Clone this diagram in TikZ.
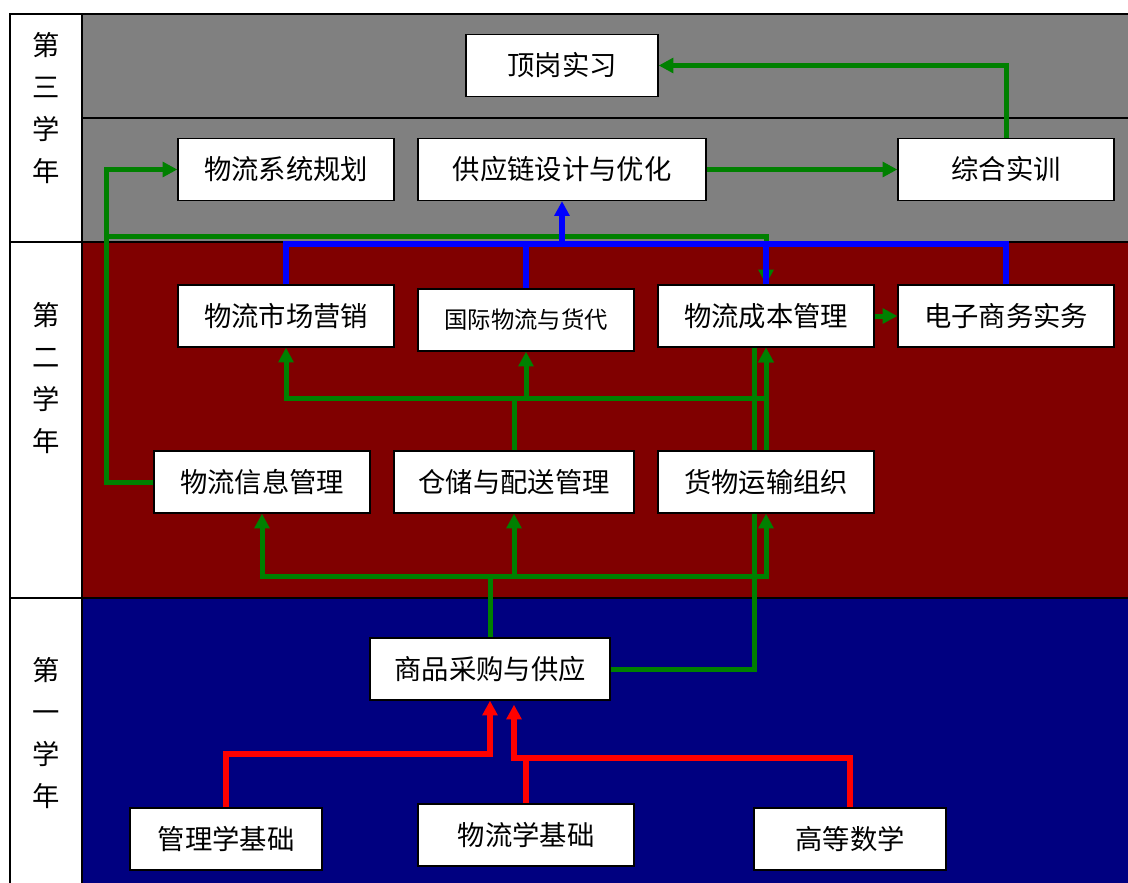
\documentclass[tikz,border=0pt]{standalone}
\usepackage{fontspec}
\setmainfont{Noto Sans CJK SC}
\usetikzlibrary{arrows.meta,backgrounds}
\definecolor{green}{RGB}{0,128,0}
\definecolor{blue}{RGB}{0,0,255}
\definecolor{red}{RGB}{255,0,0}
\definecolor{gray}{RGB}{128,128,128}
\definecolor{maroon}{RGB}{128,0,0}
\definecolor{navy}{RGB}{0,0,128}

\begin{document}
\begin{tikzpicture}[x=0.75pt,y=-0.75pt,>={Triangle[length=11pt,width=11pt]},
  course/.style={draw,fill=white,line width=1pt,inner sep=0pt,minimum height=46.5pt,font=\fontsize{20.5}{24}\selectfont},
  yearlab/.style={align=center,font=\fontsize{20.5}{31.5}\selectfont},
  band/.style={draw=black,line width=1.2pt},
  gline/.style={green,line width=3.75pt},
  bline/.style={blue,line width=4.5pt},
  rline/.style={red,line width=4.2pt}]
\useasboundingbox (0,0) rectangle (1128,882);

% third year
\node[course,minimum width=144pt] (post) at (562,65.5) {顶岗实习};
\node[course,minimum width=162pt] (plan) at (286,169.5) {物流系统规划};
\node[course,minimum width=216pt] (scm) at (562,169.5) {供应链设计与优化};
\node[course,minimum width=162pt] (drill) at (1006,169.5) {综合实训};
% second year
\node[course,minimum width=162pt] (mkt) at (286,316) {物流市场营销};
\node[course,minimum width=162pt,font=\fontsize{17.5}{20}\selectfont] (intl) at (526,320) {国际物流与货代};
\node[course,minimum width=162pt] (cost) at (766,316) {物流成本管理};
\node[course,minimum width=162pt] (ecom) at (1006,316) {电子商务实务};
\node[course,minimum width=162pt] (info) at (262,482) {物流信息管理};
\node[course,minimum width=180pt] (ware) at (514,482) {仓储与配送管理};
\node[course,minimum width=162pt] (trans) at (766,482) {货物运输组织};
% first year
\node[course,minimum width=180pt] (buy) at (490,669) {商品采购与供应};
\node[course,minimum width=144pt] (mgmt) at (226,839) {管理学基础};
\node[course,minimum width=162pt] (basic) at (526,835) {物流学基础};
\node[course,minimum width=144pt] (math) at (850,839) {高等数学};

\node[yearlab] (y3) at (46,108.5) {第\\三\\学\\年};
\node[yearlab] (y2) at (46,378.5) {第\\二\\学\\年};
\node[yearlab] (y1) at (46,733.5) {第\\一\\学\\年};

\begin{scope}[on background layer]
\draw[band,fill=gray] (82,14) rectangle (1132,118);
\draw[band,fill=gray] (82,118) rectangle (1132,242);
\draw[band,fill=maroon] (82,242) rectangle (1132,598);
\draw[band,fill=navy] (82,598) rectangle (1132,886);
\draw[band,fill=white] (10,14) rectangle (82,242);
\draw[band,fill=white] (10,242) rectangle (82,598);
\draw[band,fill=white] (10,598) rectangle (82,886);

% green links
\coordinate (gx) at (106,236);
\coordinate (midbus) at (0,398);
\coordinate (lowbus) at (0,576);
\draw[gline,->] (drill.north) |- (post.east);
\draw[gline,->] (scm.east) -- (drill.west);
\draw[gline,->] (info.west) -| (gx) |- (plan.west);
\draw[gline,->] (gx) -| (cost.north);
\draw[gline] (ware.north) -- (ware.north |- midbus);
\draw[gline,->] (ware.north |- midbus) -| (mkt.south);
\draw[gline,->] (ware.north |- midbus) -| (cost.south);
\draw[gline,->] (intl.south |- midbus) -- (intl.south);
\draw[gline,->] (trans.north) -- (cost.south);
\draw[gline] (buy.north) -- (buy.north |- lowbus);
\draw[gline,->] (buy.north |- lowbus) -| (info.south);
\draw[gline,->] (buy.north |- lowbus) -| (trans.south);
\draw[gline,->] (ware.south |- lowbus) -- (ware.south);
\draw[gline] (buy.east) -| ([xshift=-9pt]cost.south);
\draw[gline,->] (cost.east) -- (ecom.west);

% blue links
\coordinate (bluebus) at (0,244);
\draw[bline] (mkt.north) -- (mkt.north |- bluebus) -| (ecom.north);
\draw[bline] (intl.north) -- (intl.north |- bluebus);
\draw[bline] (cost.north) -- (cost.north |- bluebus);
\draw[bline,->] (scm.south |- bluebus) -- (scm.south);

% red links
\coordinate (redbus) at (0,754);
\coordinate (redbus2) at (0,758);
\draw[rline,->] (mgmt.north) -- (mgmt.north |- redbus) -| (buy.south);
\draw[rline,->,shorten >=3pt] (math.north) -- (math.north |- redbus2) -| ([xshift=18pt]buy.south);
\draw[rline] (basic.north) -- (basic.north |- redbus2);
\end{scope}
\end{tikzpicture}
\end{document}
